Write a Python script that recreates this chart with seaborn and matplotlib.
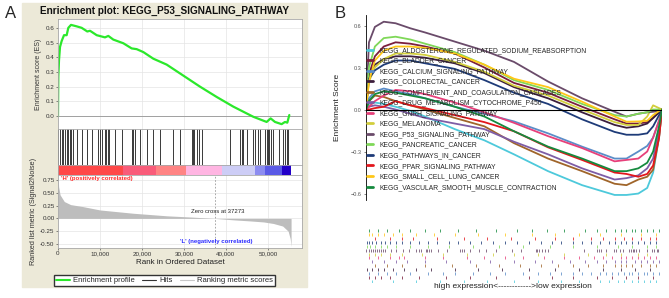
import numpy as np
import pandas as pd
import seaborn as sns
import matplotlib.pyplot as plt
from matplotlib.patches import Rectangle
from matplotlib.lines import Line2D

sns.set_theme(style="white")
plt.rcParams["font.family"] = ["Liberation Sans", "DejaVu Sans"]

W, H = 669, 298

# ---------------- panel A data ----------------
es_rank = [0, 80, 240, 480, 870, 1430, 2060, 2460, 3100, 4440, 5630, 6980, 7620, 9210,
           11190, 11980, 13170, 15560, 17540, 18730, 20320, 22700, 25870, 29050, 33810,
           37780, 41750, 44920, 46510, 49680, 50630, 51670, 53250, 54050, 54600, 55080]
es_score = [0.0, 0.27, 0.38, 0.47, 0.51, 0.55, 0.55, 0.60, 0.62, 0.61, 0.60, 0.575, 0.58,
            0.55, 0.535, 0.545, 0.52, 0.495, 0.46, 0.455, 0.435, 0.39, 0.35, 0.29, 0.20,
            0.13, 0.064, 0.018, -0.005, -0.04, -0.016, -0.04, -0.055, -0.04, -0.045, 0.007]

hit_ranks = [80, 480, 870, 1270, 1670, 2060, 2460, 2860, 3100, 3490, 4600, 5640, 6980,
             8020, 9440, 10000, 10400, 11190, 11430, 11830, 12220, 13570, 15160, 17540,
             17940, 18330, 19520, 21110, 22540, 24290, 27460, 29050, 31830, 32060, 32460,
             33020, 33650, 34210, 40950, 43330, 43730, 44130, 44920, 46510, 46900, 47700,
             48100, 49290, 49680, 50080, 50320, 50630, 51110, 52700, 53650, 54050, 54600,
             54840]

metric_rank = [0, 150, 500, 1500, 3000, 6000, 10000, 18000, 26000, 32000, 37273, 42000,
               45800, 49000, 51300, 53500, 54800, 55300, 55500]
metric_value = [0.85, 0.62, 0.46, 0.33, 0.27, 0.23, 0.165, 0.10, 0.05, 0.025, 0.0, -0.03,
                -0.05, -0.07, -0.10, -0.15, -0.25, -0.40, -0.55]

bar_edges = [0, 15500, 23300, 30400, 39000, 46900, 49300, 53300, 55500]
bar_colors = ["#FF4848", "#F95C7A", "#FF8484", "#FFB5E2", "#CDCDF6", "#8C8CF0",
              "#5A5AE6", "#2200C8"]
zero_cross = 37273
n_ranked = 55500

# ---------------- panel B data ----------------
gene_sets = ["KEGG_ALDOSTERONE_REGULATED_SODIUM_REABSORPTION", "KEGG_BLADDER_CANCER",
             "KEGG_CALCIUM_SIGNALING_PATHWAY", "KEGG_COLORECTAL_CANCER",
             "KEGG_COMPLEMENT_AND_COAGULATION_CASCADES",
             "KEGG_DRUG_METABOLISM_CYTOCHROME_P450", "KEGG_GNRH_SIGNALING_PATHWAY",
             "KEGG_MELANOMA", "KEGG_P53_SIGNALING_PATHWAY", "KEGG_PANCREATIC_CANCER",
             "KEGG_PATHWAYS_IN_CANCER", "KEGG_PPAR_SIGNALING_PATHWAY",
             "KEGG_SMALL_CELL_LUNG_CANCER", "KEGG_VASCULAR_SMOOTH_MUSCLE_CONTRACTION"]
set_colors = ["#4DC9DB", "#7A1F3D", "#5B8DC8", "#3C1E3C", "#A0652A", "#7E5DA6",
              "#E7407A", "#D2CE3C", "#6A4B6A", "#7FD858", "#1E3B78", "#E3161C",
              "#FFC718", "#158A3E"]

rank_frac = [0, 0.01, 0.03, 0.06, 0.1, 0.15, 0.2, 0.3, 0.4, 0.5, 0.615, 0.73, 0.84,
             0.88, 0.92, 0.95, 0.97, 0.99, 1.0]
es_aldosterone = [0, 0.04, 0.05, 0.04, 0.02, -0.01, -0.05, -0.14, -0.22, -0.32, -0.44,
                  -0.54, -0.61, -0.61, -0.60, -0.56, -0.45, -0.2, 0]
es_bladder = [0, 0.25, 0.38, 0.45, 0.48, 0.47, 0.45, 0.40, 0.30, 0.19, 0.12, 0.02, -0.07,
              -0.10, -0.10, -0.09, -0.06, -0.02, 0]
es_calcium = [0, 0.08, 0.13, 0.15, 0.13, 0.11, 0.08, 0.02, -0.03, -0.085, -0.17, -0.265,
              -0.35, -0.35, -0.30, -0.26, -0.2, -0.08, 0]
es_colorectal = [0, 0.26, 0.32, 0.36, 0.38, 0.38, 0.37, 0.33, 0.26, 0.16, 0.08, -0.02,
                 -0.11, -0.13, -0.12, -0.10, -0.06, -0.02, 0]
es_complement = [0, 0.06, 0.10, 0.09, 0.06, 0.03, 0.0, -0.06, -0.12, -0.24, -0.35, -0.44,
                 -0.53, -0.54, -0.50, -0.48, -0.43, -0.2, 0]
es_drug = [0, 0.02, 0.03, 0.02, 0.0, -0.03, -0.06, -0.10, -0.14, -0.23, -0.32, -0.42,
           -0.50, -0.49, -0.47, -0.42, -0.35, -0.15, 0]
es_gnrh = [0, 0.02, 0.06, 0.10, 0.14, 0.13, 0.11, 0.05, -0.02, -0.095, -0.19, -0.275,
           -0.37, -0.36, -0.35, -0.30, -0.2, -0.08, 0]
es_melanoma = [0, 0.20, 0.30, 0.36, 0.40, 0.40, 0.39, 0.34, 0.27, 0.17, 0.10, 0.0, -0.09,
               -0.11, -0.11, -0.05, 0.03, 0.01, 0]
es_p53 = [0, 0.48, 0.59, 0.627, 0.616, 0.58, 0.55, 0.485, 0.42, 0.34, 0.20, 0.08, -0.016,
          -0.05, -0.03, -0.02, -0.016, -0.01, 0]
es_pancreatic = [0, 0.30, 0.45, 0.51, 0.52, 0.50, 0.47, 0.41, 0.32, 0.21, 0.14, 0.04,
                 -0.04, -0.05, -0.03, -0.02, 0.0, 0.0, 0]
es_pathways = [0, 0.22, 0.28, 0.32, 0.35, 0.35, 0.33, 0.29, 0.21, 0.12, 0.04, -0.07,
               -0.16, -0.18, -0.18, -0.17, -0.12, -0.04, 0]
es_ppar = [0, 0.0, 0.01, 0.02, 0.06, 0.03, 0.01, -0.04, -0.09, -0.155, -0.27, -0.36,
           -0.45, -0.46, -0.48, -0.46, -0.40, -0.2, 0]
es_smallcell = [0, 0.20, 0.35, 0.42, 0.45, 0.45, 0.44, 0.40, 0.32, 0.22, 0.16, 0.056,
                -0.05, -0.087, -0.085, -0.08, -0.04, -0.01, 0]
es_vascular = [0, 0.06, 0.11, 0.13, 0.12, 0.10, 0.08, 0.02, -0.05, -0.155, -0.265, -0.35,
               -0.44, -0.44, -0.42, -0.38, -0.30, -0.12, 0]
es_curves = [es_aldosterone, es_bladder, es_calcium, es_colorectal, es_complement, es_drug,
             es_gnrh, es_melanoma, es_p53, es_pancreatic, es_pathways, es_ppar,
             es_smallcell, es_vascular]

# gene positions (fraction of ranked list) for the rug rows
hits_aldosterone = [0.02, 0.09, 0.17, 0.25, 0.33, 0.41, 0.5, 0.58, 0.66, 0.72, 0.79, 0.82,
                    0.85, 0.87, 0.9, 0.92, 0.94, 0.96, 0.98]
hits_bladder = [0.01, 0.03, 0.05, 0.08, 0.12, 0.18, 0.27, 0.35, 0.44, 0.55, 0.63, 0.7,
                0.78, 0.83, 0.88, 0.92, 0.97]
hits_calcium = [0.01, 0.04, 0.07, 0.1, 0.15, 0.21, 0.26, 0.3, 0.36, 0.42, 0.47, 0.53,
                0.58, 0.62, 0.66, 0.7, 0.73, 0.76, 0.79, 0.81, 0.83, 0.85, 0.87, 0.89,
                0.9, 0.92, 0.94, 0.95, 0.97, 0.99]
hits_colorectal = [0.005, 0.02, 0.04, 0.06, 0.09, 0.13, 0.17, 0.22, 0.3, 0.38, 0.46,
                   0.55, 0.64, 0.72, 0.8, 0.86, 0.91, 0.96]
hits_complement = [0.03, 0.07, 0.12, 0.2, 0.29, 0.37, 0.45, 0.52, 0.59, 0.65, 0.7, 0.75,
                   0.8, 0.84, 0.86, 0.88, 0.9, 0.93, 0.96, 0.98]
hits_drug = [0.02, 0.06, 0.1, 0.14, 0.2, 0.27, 0.35, 0.42, 0.5, 0.57, 0.63, 0.69, 0.74,
             0.78, 0.81, 0.84, 0.86, 0.88, 0.91, 0.93, 0.95, 0.97, 0.99]
hits_gnrh = [0.01, 0.04, 0.08, 0.11, 0.13, 0.2, 0.26, 0.34, 0.4, 0.47, 0.53, 0.6, 0.67,
             0.72, 0.77, 0.8, 0.83, 0.86, 0.88, 0.9, 0.92, 0.94, 0.96, 0.98]
hits_melanoma = [0.01, 0.03, 0.05, 0.08, 0.12, 0.19, 0.26, 0.34, 0.43, 0.5, 0.58, 0.67,
                 0.75, 0.81, 0.86, 0.92, 0.95]
hits_p53 = [r / n_ranked for r in hit_ranks]
hits_pancreatic = [0.005, 0.015, 0.03, 0.05, 0.07, 0.1, 0.15, 0.21, 0.28, 0.36, 0.45,
                   0.53, 0.62, 0.7, 0.78, 0.85, 0.9, 0.95, 0.98]
hits_pathways = [0.005, 0.01, 0.02, 0.035, 0.05, 0.065, 0.08, 0.1, 0.12, 0.15, 0.18,
                 0.21, 0.24, 0.28, 0.31, 0.35, 0.39, 0.43, 0.47, 0.51, 0.55, 0.59, 0.63,
                 0.66, 0.7, 0.73, 0.76, 0.79, 0.82, 0.84, 0.86, 0.88, 0.9, 0.92, 0.94,
                 0.96, 0.98]
hits_ppar = [0.03, 0.08, 0.12, 0.16, 0.24, 0.33, 0.41, 0.49, 0.57, 0.64, 0.7, 0.76, 0.8,
             0.84, 0.87, 0.9, 0.93, 0.96, 0.98]
hits_smallcell = [0.01, 0.02, 0.04, 0.06, 0.09, 0.12, 0.17, 0.23, 0.3, 0.38, 0.47, 0.56,
                  0.64, 0.72, 0.79, 0.86, 0.93, 0.98]
hits_vascular = [0.01, 0.04, 0.07, 0.11, 0.15, 0.2, 0.25, 0.31, 0.37, 0.44, 0.51, 0.56,
                 0.61, 0.67, 0.74, 0.78, 0.81, 0.84, 0.86, 0.88, 0.9, 0.91, 0.93, 0.95,
                 0.97, 0.99]
rug_hits = [hits_aldosterone, hits_bladder, hits_calcium, hits_colorectal, hits_complement,
            hits_drug, hits_gnrh, hits_melanoma, hits_p53, hits_pancreatic, hits_pathways,
            hits_ppar, hits_smallcell, hits_vascular]


def px_rect(x0, y0, x1, y1):
    return [x0 / W, 1 - y1 / H, (x1 - x0) / W, (y1 - y0) / H]


fig = plt.figure(figsize=(W / 100, H / 100), dpi=100)
fig.patches.append(Rectangle((22 / W, 1 - 287 / H), 285 / W, 284 / H,
                             transform=fig.transFigure, color="#ECE9D8", zorder=-5))

# ================= panel A =================
ax_es = fig.add_axes(px_rect(58, 19, 302, 129))
ax_hits = fig.add_axes(px_rect(58, 129, 302, 165))
ax_bar = fig.add_axes(px_rect(58, 165, 302, 175))
ax_met = fig.add_axes(px_rect(58, 175, 302, 248))

xt = [0, 10000, 20000, 30000, 40000, 50000]
for ax in [ax_es, ax_hits, ax_bar, ax_met]:
    ax.set_facecolor("white")
    ax.set_xlim(0, 58100)
    ax.set_xticks(xt)
    for s in ax.spines.values():
        s.set_color("#A8A8A8")
        s.set_linewidth(0.6)
    ax.tick_params(axis="both", labelsize=4.5, length=1.5, width=0.4, pad=1,
                   colors="#333333", left=True, bottom=True)

ax_es.grid(True, color="#E4E4E4", lw=0.5)
ax_es.axhline(0, color="#A0A0A0", lw=0.7)
sns.lineplot(x=es_rank, y=es_score, ax=ax_es, color="#2BE82B", lw=1.6)
ax_es.set_ylim(-0.088, 0.66)
ax_es.set_yticks(np.arange(0, 0.61, 0.1))
ax_es.set_yticklabels([f"{v:.1f}" for v in np.arange(0, 0.61, 0.1)])
ax_es.set_xticklabels([])
ax_es.tick_params(axis="x", length=0)
ax_es.set_ylabel("Enrichment score (ES)", fontsize=5, labelpad=3, color="#333333")
fig.text(165 / W, 1 - 11 / H, "Enrichment plot: KEGG_P53_SIGNALING_PATHWAY",
         fontsize=7.2, fontweight="bold", ha="center", va="center", color="#111111")

ax_hits.grid(True, axis="x", color="#E4E4E4", lw=0.5)
ax_hits.vlines(hit_ranks, 0, 1, color="#1A1A1A", lw=0.6)
ax_hits.set_ylim(0, 1)
ax_hits.set_yticks([])
ax_hits.set_xticklabels([])
ax_hits.tick_params(axis="x", length=0)

for i, c in enumerate(bar_colors):
    ax_bar.axvspan(bar_edges[i], bar_edges[i + 1], color=c, lw=0)
ax_bar.set_yticks([])
ax_bar.set_xticklabels([])
ax_bar.tick_params(axis="x", length=0)

ax_met.grid(True, color="#E4E4E4", lw=0.5)
ax_met.fill_between(metric_rank, metric_value, 0, color="#BDBDBD", lw=0)
ax_met.axvline(zero_cross, color="#9A9A9A", lw=0.6, ls=(0, (2, 2)))
ax_met.set_ylim(-0.58, 0.85)
met_ticks = [0.75, 0.5, 0.25, 0.0, -0.25, -0.5]
ax_met.set_yticks(met_ticks)
ax_met.set_yticklabels([f"{v:.2f}" for v in met_ticks])
ax_met.set_xticklabels(["0", "10,000", "20,000", "30,000", "40,000", "50,000"])
ax_met.set_xlabel("Rank in Ordered Dataset", fontsize=5.8, labelpad=2, color="#222222")
ax_met.set_ylabel("Ranked list metric (Signal2Noise)", fontsize=5.2, labelpad=2,
                  color="#333333")
ax_met.text(600, 0.83, "'H' (positively correlated)", color="#FF2A2A", fontsize=4.3,
            va="top", ha="left", fontweight="bold")
ax_met.text(29000, -0.46, "'L' (negatively correlated)", color="#2A2AFF", fontsize=4.3,
            va="center", ha="left", fontweight="bold")
ax_met.text(31600, 0.13, "Zero cross at 37273", color="#222222", fontsize=4.3,
            va="center", ha="left")

leg_a = [Line2D([], [], color="#2BE82B", lw=1.5),
         Line2D([], [], color="#333333", lw=0.8),
         Line2D([], [], color="#C8C8C8", lw=0.8)]
fig.legend(leg_a, ["Enrichment profile", "Hits", "Ranking metric scores"],
           loc="center", bbox_to_anchor=(164.5 / W, 1 - 280.5 / H), ncol=3,
           fontsize=5.5, frameon=True, fancybox=False, edgecolor="#333333",
           framealpha=1, borderpad=0.3, handlelength=1.8, handletextpad=0.4,
           columnspacing=1.0, borderaxespad=0)

fig.text(5 / W, 1 - 13 / H, "A", fontsize=12, va="center", ha="left")

# ================= panel B =================
ax_b = fig.add_axes(px_rect(366, 15, 662, 200))
ax_b.set_facecolor("none")
rows = []
for name, curve in zip(gene_sets, es_curves):
    for x, y in zip(rank_frac, curve):
        rows.append((name, x, y))
df_b = pd.DataFrame(rows, columns=["set", "rank", "es"])
sns.lineplot(data=df_b, x="rank", y="es", hue="set", hue_order=gene_sets,
             palette=dict(zip(gene_sets, set_colors)), sort=False, estimator=None,
             lw=1.3, ax=ax_b, legend=False)
ax_b.axhline(0, xmin=0, xmax=1, color="black", lw=0.8, zorder=5)
ax_b.set_xlim(0, 1.0)
ax_b.set_ylim(-0.646, 0.675)
ax_b.set_yticks([-0.6, -0.3, 0.0, 0.3, 0.6])
ax_b.set_yticklabels(["\u22120.6", "\u22120.3", "0.0", "0.3", "0.6"])
ax_b.set_xticks([])
for side in ["top", "right", "bottom"]:
    ax_b.spines[side].set_visible(False)
ax_b.spines["left"].set_color("black")
ax_b.spines["left"].set_linewidth(0.6)
ax_b.tick_params(axis="y", labelsize=4, length=1.5, width=0.5, pad=1.5,
                 colors="#555555", left=True)
ax_b.set_xlabel("")
ax_b.set_ylabel("Enrichment Score", fontsize=6, labelpad=7, color="#222222")

leg_b = [Line2D([], [], color=c, lw=2) for c in set_colors]
ax_b.legend(leg_b, gene_sets, loc="upper left", bbox_to_anchor=(0.0, 0.835),
            fontsize=4.9, frameon=False, handlelength=0.9, handletextpad=0.9,
            labelspacing=0.52, borderaxespad=0.2, borderpad=0)

ax_rug = fig.add_axes(px_rect(366, 229, 662, 283))
ax_rug.axis("off")
n_sets = len(gene_sets)
for i, (hits, c) in enumerate(zip(rug_hits, set_colors)):
    row = i  # first set at the bottom
    ax_rug.vlines(hits, row + 0.1, row + 0.9, color=c, lw=0.7, alpha=0.8)
ax_rug.set_xlim(0, 1.0)
ax_rug.set_ylim(0, n_sets)

fig.text(513 / W, 1 - 287 / H, "high expression<------------>low expression",
         fontsize=6, ha="center", va="center", color="#222222")
fig.text(335 / W, 1 - 13 / H, "B", fontsize=12, va="center", ha="left")

fig.savefig("out.png", dpi=100)
